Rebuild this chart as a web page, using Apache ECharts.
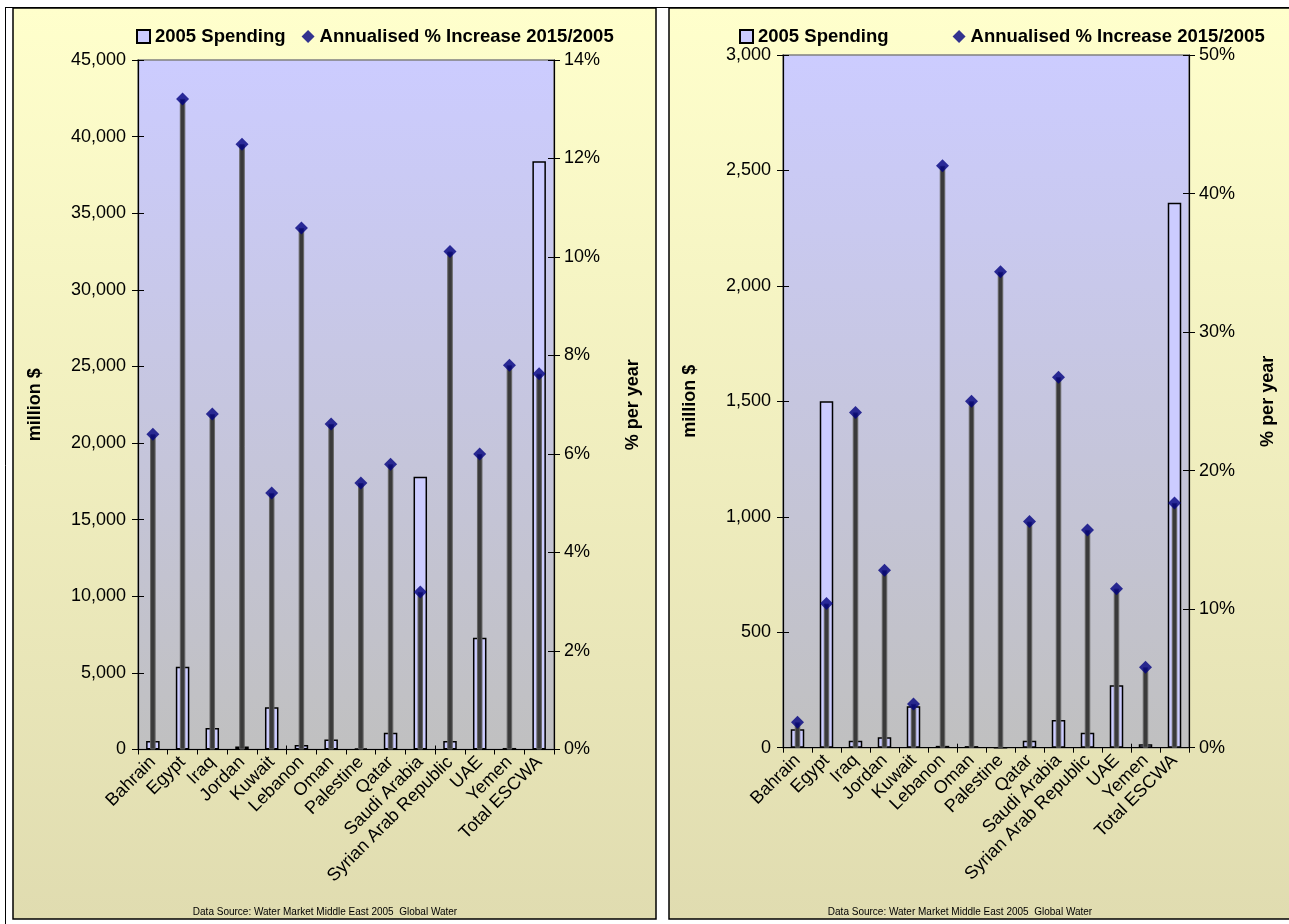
<!DOCTYPE html>
<html>
<head>
<meta charset="utf-8">
<script src="https://cdn.jsdelivr.net/npm/echarts@6/dist/echarts.min.js"></script>
<style>
  html, body { margin: 0; padding: 0; background: #ffffff; }
  #chart { width: 1289px; height: 924px; }
</style>
</head>
<body>
<div id="chart"></div>
<script>
// Countries / groupings on the category axis
const categories = ['Bahrain', 'Egypt', 'Iraq', 'Jordan', 'Kuwait', 'Lebanon', 'Oman', 'Palestine',
  'Qatar', 'Saudi Arabia', 'Syrian Arab Republic', 'UAE', 'Yemen', 'Total ESCWA'];

// Left panel: 2005 spending (million $) and annualised growth (% per year)
const spendingLeft = [550, 5400, 1400, 200, 2750, 300, 650, 80, 1100, 17800, 550, 7300, 100, 38400];
const growthLeft = [6.40, 13.21, 6.81, 12.29, 5.21, 10.59, 6.61, 5.41, 5.79, 3.20, 10.11, 6.00, 7.80, 7.63];

// Right panel: 2005 spending (million $) and annualised growth (% per year)
const spendingRight = [80, 1500, 30, 45, 180, 8, 7, 0, 30, 120, 65, 270, 15, 2360];
const growthRight = [1.83, 10.4, 24.2, 12.81, 3.16, 42.0, 25.0, 34.35, 16.32, 26.74, 15.72, 11.48, 5.80, 17.67];

// Axis ranges / tick steps
const leftValueTicks = [0, 45000, 5000];
const leftPctTicks = [0, 14, 2];
const rightValueTicks = [0, 3000, 500];
const rightPctTicks = [0, 50, 10];

const seriesSpending = '2005 Spending';
const seriesGrowth = 'Annualised % Increase 2015/2005';
const sourceNote = 'Data Source: Water Market Middle East 2005  Global Water';

const FONT = '"Liberation Sans", Arial, sans-serif';
const plotFill = {
  type: 'linear', x: 0, y: 0, x2: 0, y2: 1,
  colorStops: [{ offset: 0, color: '#CCCCFF' }, { offset: 1, color: '#C0C0C0' }]
};
const panelFill = {
  type: 'linear', x: 0, y: 0, x2: 0, y2: 1,
  colorStops: [{ offset: 0, color: '#FFFFCC' }, { offset: 1, color: '#E0DCB0' }]
};

const grids = [
  { left: 138, top: 60, width: 416, height: 689.5 },
  { left: 783, top: 55, width: 406, height: 692.7 }
];

function fmtThousands(v) { return Number(v).toLocaleString('en-US'); }

const xAxes = [];
const yAxes = [];
const series = [];

function buildPanel(gi, spending, growth, vt, pt, nameGapLeft, nameGapRight) {
  // visible category axis with outward ticks
  xAxes.push({
    type: 'category', gridIndex: gi, data: categories, position: 'bottom',
    axisLine: { lineStyle: { color: '#000', width: 1.2 } },
    axisTick: { show: true, length: 5, lineStyle: { color: '#000' } },
    axisLabel: { rotate: 45, fontSize: 18, color: '#000', fontFamily: FONT, margin: 10, interval: 0 }
  });
  // overlay category axis: inward ticks, carries the growth stems and markers
  xAxes.push({
    type: 'category', gridIndex: gi, data: categories, position: 'bottom',
    axisLine: { show: false },
    axisTick: { show: true, inside: true, length: 4, lineStyle: { color: '#000' } },
    axisLabel: { show: false }
  });
  const xi = xAxes.length - 2;

  // left value axis (labels + outward ticks)
  yAxes.push({
    type: 'value', gridIndex: gi, position: 'left', min: vt[0], max: vt[1], interval: vt[2],
    name: 'million $', nameLocation: 'middle', nameGap: nameGapLeft, nameRotate: 90,
    nameTextStyle: { fontSize: 18, fontWeight: 'bold', color: '#000', fontFamily: FONT },
    axisLine: { show: true, lineStyle: { color: '#000', width: 1.2 } },
    axisTick: { show: true, length: 6, lineStyle: { color: '#000' } },
    axisLabel: { fontSize: 18, color: '#000', fontFamily: FONT, margin: 12, formatter: fmtThousands },
    splitLine: { show: false }
  });
  // left value axis inward ticks
  yAxes.push({
    type: 'value', gridIndex: gi, position: 'left', min: vt[0], max: vt[1], interval: vt[2],
    axisLine: { show: false },
    axisTick: { show: true, inside: true, length: 6, lineStyle: { color: '#000' } },
    axisLabel: { show: false }, splitLine: { show: false }
  });
  // right percent axis
  yAxes.push({
    type: 'value', gridIndex: gi, position: 'right', min: pt[0], max: pt[1], interval: pt[2],
    name: '% per year', nameLocation: 'middle', nameGap: nameGapRight, nameRotate: 90,
    nameTextStyle: { fontSize: 18, fontWeight: 'bold', color: '#000', fontFamily: FONT },
    axisLine: { show: true, lineStyle: { color: '#000', width: 1.2 } },
    axisTick: { show: true, length: 6, lineStyle: { color: '#000' } },
    axisLabel: { fontSize: 18, color: '#000', fontFamily: FONT, margin: 10, formatter: '{value}%' },
    splitLine: { show: false }
  });
  // right percent axis inward ticks
  yAxes.push({
    type: 'value', gridIndex: gi, position: 'right', min: pt[0], max: pt[1], interval: pt[2],
    axisLine: { show: false },
    axisTick: { show: true, inside: true, length: 6, lineStyle: { color: '#000' } },
    axisLabel: { show: false }, splitLine: { show: false }
  });
  const yi = yAxes.length - 4;

  series.push({
    name: seriesSpending, type: 'bar', xAxisIndex: xi, yAxisIndex: yi,
    data: spending, barWidth: 13.5, z: 2,
    itemStyle: { color: '#CCCCFF', borderColor: '#000', borderWidth: 1.5 }
  });
  series.push({
    name: 'growth-stem-' + gi, type: 'bar', xAxisIndex: xi + 1, yAxisIndex: yi + 2,
    data: growth, barWidth: 5.5, z: 3,
    itemStyle: { color: '#3a3a3a', borderColor: '#666666', borderWidth: 1 }
  });
  series.push({
    name: seriesGrowth, type: 'scatter', xAxisIndex: xi + 1, yAxisIndex: yi + 2,
    data: growth, symbol: 'diamond', symbolSize: 13, z: 4,
    itemStyle: { color: '#000080' }
  });
}

buildPanel(0, spendingLeft, growthLeft, leftValueTicks, leftPctTicks, 94, 70);
buildPanel(1, spendingRight, growthRight, rightValueTicks, rightPctTicks, 84, 70);

const legendText = { fontSize: 18.5, fontWeight: 'bold', color: '#000', fontFamily: FONT };

const option = {
  animation: false,
  backgroundColor: '#ffffff',
  grid: grids.map(g => Object.assign({
    show: true, backgroundColor: plotFill, borderColor: '#808080', borderWidth: 1.5, containLabel: false
  }, g)),
  legend: [
    {
      left: 131, top: 22, itemWidth: 13, itemHeight: 13, itemGap: 16,
      textStyle: legendText,
      data: [{ name: seriesSpending, icon: 'rect' }, { name: seriesGrowth, icon: 'diamond' }]
    },
    {
      left: 734, top: 22, itemWidth: 13, itemHeight: 13, itemGap: 64,
      textStyle: legendText,
      data: [{ name: seriesSpending, icon: 'rect' }, { name: seriesGrowth, icon: 'diamond' }]
    }
  ],
  xAxis: xAxes,
  yAxis: yAxes,
  series: series,
  graphic: [
    { type: 'rect', z: -10, shape: { x: 13, y: 8, width: 643, height: 911 },
      style: { fill: panelFill, stroke: '#000', lineWidth: 1.5 } },
    { type: 'rect', z: -10, shape: { x: 669, y: 8, width: 621, height: 911 },
      style: { fill: panelFill, stroke: '#000', lineWidth: 1.5 } },
    { type: 'line', z: -9, shape: { x1: 5, y1: 7.5, x2: 1289, y2: 7.5 }, style: { stroke: '#000', lineWidth: 1 } },
    { type: 'line', z: -9, shape: { x1: 5.5, y1: 7.5, x2: 5.5, y2: 924 }, style: { stroke: '#000', lineWidth: 1 } },
    { type: 'text', z: 10, x: 325, y: 912,
      style: { text: sourceNote, fontSize: 10, fontFamily: FONT, fill: '#000', align: 'center', verticalAlign: 'middle' } },
    { type: 'text', z: 10, x: 960, y: 912,
      style: { text: sourceNote, fontSize: 10, fontFamily: FONT, fill: '#000', align: 'center', verticalAlign: 'middle' } }
  ]
};

const chart = echarts.init(document.getElementById('chart'), null, { renderer: 'canvas' });
chart.setOption(option);
</script>
</body>
</html>
